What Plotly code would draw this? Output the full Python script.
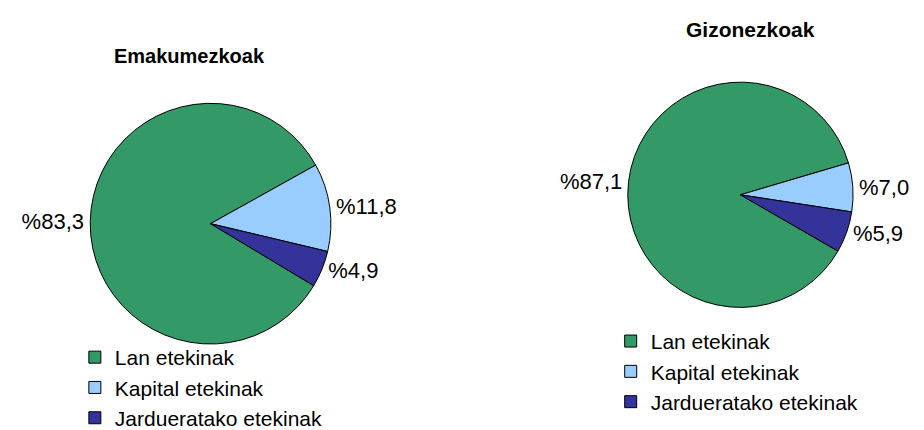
import plotly.graph_objects as go

categories = ["Lan etekinak", "Kapital etekinak", "Jardueratako etekinak"]
women_values = [83.3, 11.8, 4.9]
men_values = [87.1, 7.0, 5.9]
titles = ["Emakumezkoak", "Gizonezkoak"]
colors = ["#339966", "#99CCFF", "#333399"]

W, H = 924, 430
FONT = "Arial, Liberation Sans, sans-serif"


def dom(cx, cy, r):
    return dict(x=[(cx - r) / W, (cx + r) / W], y=[1 - (cy + r) / H, 1 - (cy - r) / H])


fig = go.Figure()
fig.add_trace(go.Pie(
    labels=categories, values=women_values, sort=False, direction="clockwise",
    rotation=121, domain=dom(201, 224, 125),
    marker=dict(colors=colors, line=dict(color="black", width=1)),
    textposition="outside", texttemplate="%%{value:.1f}",
    textfont=dict(family=FONT, size=22, color="black"),
    hoverinfo="label+value", legend="legend", showlegend=True,
))
fig.add_trace(go.Pie(
    labels=[c + " " for c in categories], values=men_values, sort=False,
    direction="clockwise",
    rotation=120, domain=dom(732, 194, 117),
    marker=dict(colors=colors, line=dict(color="black", width=1)),
    textposition="outside", texttemplate="%%{value:.1f}",
    textfont=dict(family=FONT, size=22, color="black"),
    hoverinfo="label+value", legend="legend2", showlegend=True,
))

fig.add_annotation(text="<b>" + titles[0] + "</b>", x=180 / W, y=1 - 50 / H,
                   xref="paper", yref="paper", showarrow=False,
                   xanchor="center", yanchor="middle",
                   font=dict(family=FONT, size=20, color="black"))
fig.add_annotation(text="<b>" + titles[1] + "</b>", x=742 / W, y=1 - 22 / H,
                   xref="paper", yref="paper", showarrow=False,
                   xanchor="center", yanchor="middle",
                   font=dict(family=FONT, size=21, color="black"))

legend_common = dict(font=dict(family=FONT, size=21, color="black"),
                     bgcolor="rgba(0,0,0,0)", xanchor="left", yanchor="top",
                     orientation="v", traceorder="normal")
fig.update_layout(
    width=W, height=H,
    margin=dict(l=0, r=0, t=0, b=0),
    paper_bgcolor="white", plot_bgcolor="white",
    separators=",.",
    legend=dict(x=65 / W, y=1 - 342 / H, **legend_common),
    legend2=dict(x=602 / W, y=1 - 325 / H, **legend_common),
)

fig.write_html("out.html")
